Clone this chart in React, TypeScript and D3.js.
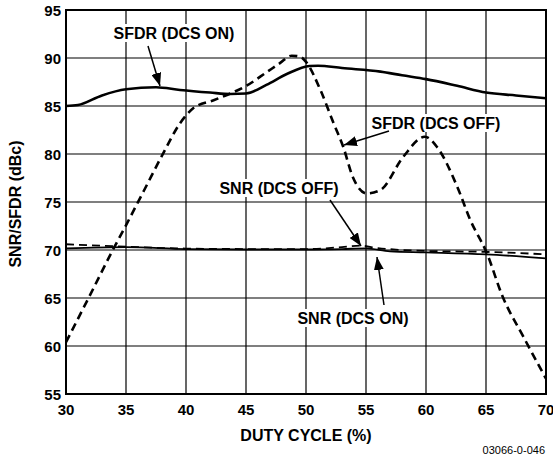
import React from "react";
import * as d3 from "d3";

// duty cycle (%) / dBc
const sfdrOnX = [30, 31, 33, 35, 37.5, 39.5, 42, 43.7, 45, 46.7, 48.4, 50.3, 51, 53, 56.2, 58, 60, 62.6, 65, 67.5, 70];
const sfdrOnY = [85.0, 85.1, 86.1, 86.74, 86.95, 86.67, 86.4, 86.25, 86.3, 87.2, 88.33, 89.17, 89.2, 88.95, 88.58, 88.2, 87.8, 87.1, 86.4, 86.1, 85.8];

const sfdrOffX = [30, 32, 33.9, 34.8, 36.5, 38.1, 39.5, 40.6, 42.3, 43.7, 45, 46.7, 47.8, 48.8, 49.5, 50, 51.2, 52.3, 53.1, 53.9, 55.05, 56.2, 58.1, 59.9, 60.9, 62.6, 63.7, 65.06, 66.4, 68.1, 70];
const sfdrOffY = [60.4, 65.3, 70, 72.1, 76.2, 80.07, 83.2, 84.76, 85.6, 86.3, 87.08, 88.5, 89.44, 90.24, 90.14, 89.6, 86.67, 83.2, 80.76, 77.6, 75.9, 76.25, 79.7, 81.8, 80.76, 76.6, 73.1, 69.7, 65.1, 61.0, 56.6];

const snrOffX = [30, 35, 40, 45, 50, 53, 54.5, 56, 60, 65, 70];
const snrOffY = [70.6, 70.35, 70.15, 70.1, 70.1, 70.3, 70.45, 70.2, 69.9, 69.8, 69.55];
const snrOnX = [30, 35, 40, 45, 50, 53, 55, 57, 60, 65, 70];
const snrOnY = [70.17, 70.3, 70.1, 70.05, 70.05, 70.1, 70.17, 69.85, 69.75, 69.55, 69.13];

const xTicks = [30, 35, 40, 45, 50, 55, 60, 65, 70];
const yTicks = [55, 60, 65, 70, 75, 80, 85, 90, 95];

const width = 553;
const height = 459;
const margin = { top: 10, right: 7, bottom: 65, left: 66 };
const font = "'Liberation Sans', Arial, sans-serif";

const App = () => {
  const x = d3.scaleLinear().domain([30, 70]).range([margin.left, width - margin.right]);
  const y = d3.scaleLinear().domain([55, 95]).range([height - margin.bottom, margin.top]);

  const line = d3
    .line<[number, number]>()
    .x((d) => x(d[0]))
    .y((d) => y(d[1]))
    .curve(d3.curveMonotoneX);

  const pts = (xs: number[], ys: number[]) => xs.map((v, i) => [v, ys[i]] as [number, number]);

  const labels = [
    { text: "SFDR (DCS ON)", cx: 174, cy: 33 },
    { text: "SFDR (DCS OFF)", cx: 436, cy: 123 },
    { text: "SNR (DCS OFF)", cx: 279, cy: 188 },
    { text: "SNR (DCS ON)", cx: 353, cy: 318 },
  ];
  const arrows = [
    [148, 46, 160, 86],
    [389, 131, 344, 145],
    [330, 200, 361, 246],
    [384, 305, 377, 257],
  ];

  return (
    <svg width={width} height={height} style={{ position: "absolute", left: 0, top: 0 }} fontFamily={font}>
      <defs>
        <marker id="ah" viewBox="0 0 13 10" refX="13" refY="5" markerWidth="13" markerHeight="10" markerUnits="userSpaceOnUse" orient="auto">
          <path d="M0,0 L13,5 L0,10 z" fill="#000" />
        </marker>
      </defs>
      {xTicks.map((t) => (
        <line key={"gx" + t} x1={x(t)} x2={x(t)} y1={y(55)} y2={y(95)} stroke="#000" strokeWidth={1.2} />
      ))}
      {yTicks.map((t) => (
        <line key={"gy" + t} x1={x(30)} x2={x(70)} y1={y(t)} y2={y(t)} stroke="#000" strokeWidth={1.2} />
      ))}
      <path d={line(pts(snrOnX, snrOnY)) || ""} fill="none" stroke="#000" strokeWidth={1.8} />
      <path d={line(pts(snrOffX, snrOffY)) || ""} fill="none" stroke="#000" strokeWidth={1.8} strokeDasharray="8,5" />
      <path d={line(pts(sfdrOnX, sfdrOnY)) || ""} fill="none" stroke="#000" strokeWidth={2.6} />
      <path d={line(pts(sfdrOffX, sfdrOffY)) || ""} fill="none" stroke="#000" strokeWidth={2.6} strokeDasharray="8,5" />
      <rect x={x(30)} y={y(95)} width={x(70) - x(30)} height={y(55) - y(95)} fill="none" stroke="#000" strokeWidth={2} />
      {labels.map((l) => (
        <g key={l.text}>
          <rect x={l.cx - l.text.length * 4.8} y={l.cy - 9} width={l.text.length * 9.6} height={18} fill="#fff" />
          <text x={l.cx} y={l.cy} textAnchor="middle" dominantBaseline="central" fontSize={16} fontWeight="bold">
            {l.text}
          </text>
        </g>
      ))}
      {arrows.map((a, i) => (
        <line key={"a" + i} x1={a[0]} y1={a[1]} x2={a[2]} y2={a[3]} stroke="#000" strokeWidth={1.5} markerEnd="url(#ah)" />
      ))}
      {xTicks.map((t) => (
        <text key={"tx" + t} x={x(t)} y={415} textAnchor="middle" fontSize={15} fontWeight="bold">
          {t}
        </text>
      ))}
      {yTicks.map((t) => (
        <text key={"ty" + t} x={61} y={y(t)} textAnchor="end" dominantBaseline="central" fontSize={15} fontWeight="bold">
          {t}
        </text>
      ))}
      <text x={306} y={441} textAnchor="middle" fontSize={16} fontWeight="bold">
        DUTY CYCLE (%)
      </text>
      <text transform={`translate(15,204) rotate(-90)`} textAnchor="middle" dominantBaseline="central" fontSize={16} fontWeight="bold">
        SNR/SFDR (dBc)
      </text>
      <text x={545} y={454} textAnchor="end" fontSize={11}>
        03066-0-046
      </text>
    </svg>
  );
};

export default App;
